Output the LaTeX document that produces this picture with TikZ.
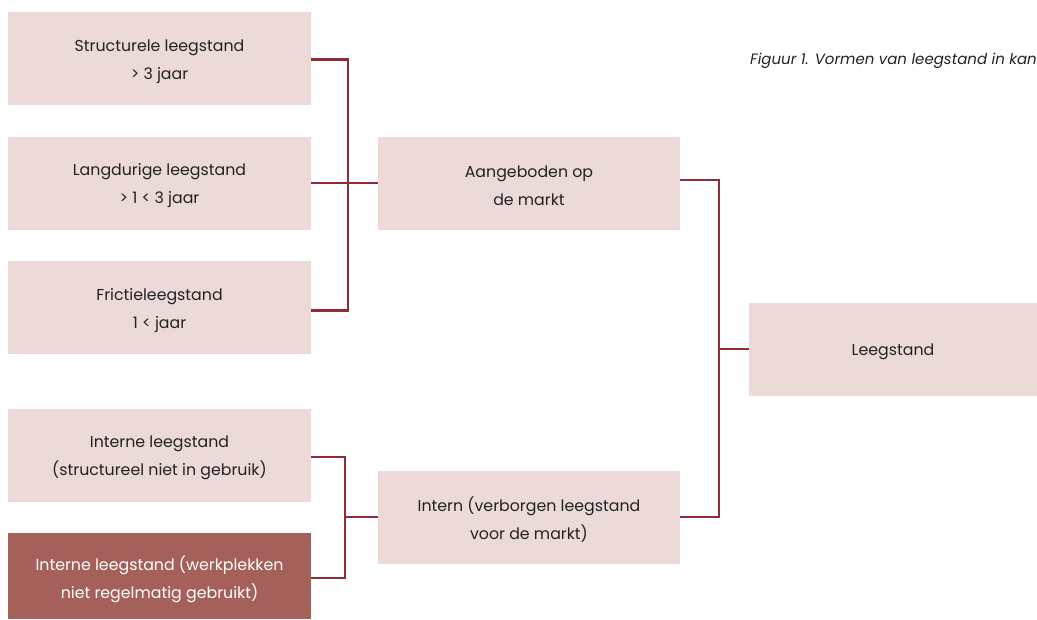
\documentclass[tikz,border=0pt]{standalone}
\usepackage{fontspec}
\setmainfont{Poppins}
\definecolor{boxpink}{HTML}{EBDAD8}
\definecolor{boxdark}{HTML}{A6605A}
\definecolor{linered}{HTML}{8E2B35}
\definecolor{txt}{HTML}{222222}
\begin{document}
\begin{tikzpicture}[x=1pt,y=-1pt,
  box/.style={fill=boxpink,draw=none,minimum width=303pt,minimum height=93pt,inner sep=0pt},
  darkbox/.style={box,fill=boxdark},
  boxtext/.style={inner sep=0pt,align=center,text=txt,font=\fontsize{15.8}{28}\selectfont},
  darktext/.style={boxtext,text=white},
  conn/.style={draw=linered,line width=2.8pt}]
\useasboundingbox (0,0) rectangle (1037,619);
\begin{scope}
\clip (0,0) rectangle (1037,619);
\node (b1) [box] at (159.5,58.5) {};
\node (b2) [box] at (159.5,183) {};
\node (b3) [box] at (159.5,307.5) {};
\node (b4) [box] at (159.5,455) {};
\node (b5) [darkbox,minimum height=86pt] at (159.5,576) {};
\node (a) [box,minimum width=302pt] at (529,183) {};
\node (i) [box,minimum width=302pt] at (529,517) {};
\node (l) [box,minimum width=288pt] at (893,349) {};
\node (b1t) [boxtext] at ([yshift=-3pt]b1.center) {Structurele leegstand\\> 3 jaar};
\node (b2t) [boxtext] at ([yshift=-3pt]b2.center) {Langdurige leegstand\\> 1 < 3 jaar};
\node (b3t) [boxtext] at ([yshift=-3pt]b3.center) {Frictieleegstand\\1 < jaar};
\node (b4t) [boxtext] at ([yshift=-3pt]b4.center) {Interne leegstand\\(structureel niet in gebruik)};
\node (b5t) [darktext] at ([yshift=-3pt]b5.center) {Interne leegstand (werkplekken\\niet regelmatig gebruikt)};
\node (at) [boxtext] at ([yshift=-3pt]a.center) {Aangeboden op\\de markt};
\node (it) [boxtext] at ([yshift=-3pt]i.center) {Intern (verborgen leegstand\\voor de markt)};
\node (lt) [boxtext] at ([yshift=-3pt]l.center) {Leegstand};
\node (cap) [anchor=west,inner sep=0pt,text=txt,font=\fontsize{15}{17}\selectfont\itshape] at (750,61) {Figuur 1. Vormen van leegstand in kan};
\end{scope}
\coordinate (j1) at (348,183);
\coordinate (j2) at (719,349);
\coordinate (j3) at (345,517);
\draw[conn] ([yshift=-1pt]b1.east) -| (j1) |- ([yshift=-3pt]b3.east);
\draw[conn] (b2.east) -- (a.west);
\draw[conn] ([yshift=3pt]a.east) -| (j2) |- (i.east);
\draw[conn] (j2) -- (l.west);
\draw[conn] ([yshift=-2pt]b4.east) -| (j3) |- ([yshift=-2pt]b5.east);
\draw[conn] (j3) -- (i.west);
\end{tikzpicture}
\end{document}
